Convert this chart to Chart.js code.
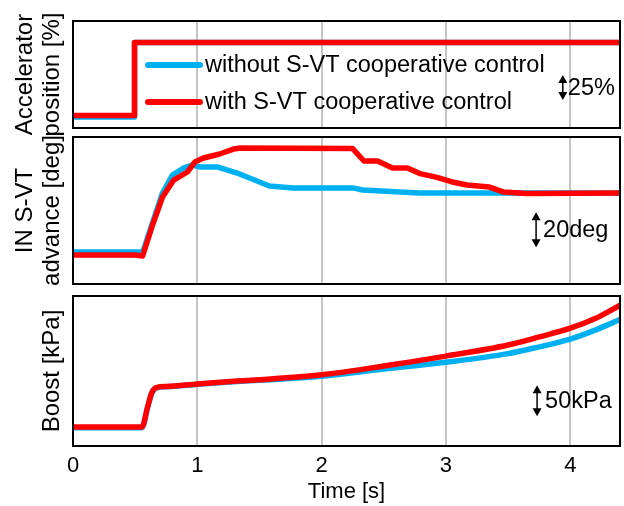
<!DOCTYPE html>
<html>
<head>
<meta charset="utf-8">
<script src="https://cdn.jsdelivr.net/npm/chart.js@4.4.1/dist/chart.umd.min.js"></script>
<style>
  html, body { margin: 0; padding: 0; background: #fff; }
  #wrap { position: relative; width: 624px; height: 506px; }
  .panel { position: absolute; left: 0; width: 624px; }
</style>
</head>
<body>
<div id="wrap">
  <div class="panel" style="top:0;height:150px"><canvas id="accelChart"></canvas></div>
  <div class="panel" style="top:130px;height:170px"><canvas id="svtChart"></canvas></div>
  <div class="panel" style="top:285px;height:221px"><canvas id="boostChart"></canvas></div>
</div>
<script>
// ==============================
// data
// ==============================
const X_TICKS = [0, 1, 2, 3, 4];
const SERIES_NAMES = ["without S-VT cooperative control", "with S-VT cooperative control"];

// Accelerator position [%]
const accelTime = [0, 0.495, 0.495, 4.4];
const accelWithout = [11, 11, 85.5, 85.5];
const accelWith = [12.5, 12.5, 85.5, 85.5];

// IN S-VT advance [deg]
const svtTimeWithout = [0, 0.55, 0.56, 0.63, 0.72, 0.8, 0.89, 0.96, 1.02, 1.16, 1.32, 1.5, 1.58, 1.77, 2.25, 2.33, 2.63, 2.79, 4.4];
const svtWithout = [18.3, 18.3, 18, 33, 52, 62.3, 66.3, 68, 66.9, 66.9, 63.4, 58.3, 56, 54.9, 54.9, 53.7, 52.6, 52, 52];
const svtTimeWith = [0, 0.5, 0.56, 0.64, 0.72, 0.81, 0.92, 0.98, 1.05, 1.18, 1.29, 1.35, 2.25, 2.34, 2.45, 2.57, 2.69, 2.79, 2.92, 3.05, 3.17, 3.35, 3.46, 3.65, 4.4];
const svtWith = [16.6, 16.6, 16, 33.7, 49.7, 59.4, 64, 69.7, 72, 74.3, 77.1, 77.7, 77.4, 70.3, 70.3, 66.3, 66.3, 63.1, 61.1, 58.3, 56.6, 55.4, 52.6, 51.7, 52];

// Boost [kPa]
const boostTime = [0, 0.555, 0.6, 0.636, 0.676, 0.756, 1.0, 1.32, 1.5, 2.0, 2.5, 3.0, 3.5, 3.75, 4.0, 4.2, 4.4];
const boostWithout = [29.5, 29.5, 62, 86, 94, 95.5, 99.5, 104, 106, 112.5, 124, 135, 149, 160, 172.5, 187, 204];
const boostWith = [30.6, 30.6, 62.9, 87.1, 94.5, 96, 100, 104.8, 107, 115, 129, 145, 163, 176, 190, 205.6, 227];

// ==============================
// style
// ==============================
const FONT = "'Liberation Sans', Arial, sans-serif";
const BLUE = "#00b0f0";
const RED = "#ff0000";

function pts(xs, ys) {
  return xs.map((x, i) => ({ x: x, y: ys[i] }));
}

function lineSet(label, xs, ys, color, order, smooth) {
  return {
    label: label,
    data: pts(xs, ys),
    borderColor: color,
    borderWidth: 5.5,
    pointRadius: 0,
    borderJoinStyle: "round",
    borderCapStyle: "round",
    cubicInterpolationMode: smooth ? "monotone" : "default",
    tension: 0,
    order: order
  };
}

// frame, scale arrow, optional legend
function decoPlugin(deco) {
  return {
    id: "deco",
    afterDatasetsDraw(chart) {
      const { ctx, chartArea: a, scales } = chart;
      ctx.save();
      ctx.strokeStyle = "#000";
      ctx.lineWidth = 2;
      ctx.strokeRect(a.left, a.top, a.right - a.left, a.bottom - a.top);

      // scale arrow
      const ax = scales.x.getPixelForValue(deco.arrowAt);
      const y1 = scales.y.getPixelForValue(deco.from);
      const y2 = scales.y.getPixelForValue(deco.from + deco.span);
      ctx.lineWidth = 1.5;
      ctx.beginPath();
      ctx.moveTo(ax, y1 - 3);
      ctx.lineTo(ax, y2 + 3);
      ctx.stroke();
      ctx.fillStyle = "#000";
      ctx.beginPath();
      ctx.moveTo(ax, y2); ctx.lineTo(ax - 4.5, y2 + 8); ctx.lineTo(ax + 4.5, y2 + 8); ctx.closePath();
      ctx.fill();
      ctx.beginPath();
      ctx.moveTo(ax, y1); ctx.lineTo(ax - 4.5, y1 - 8); ctx.lineTo(ax + 4.5, y1 - 8); ctx.closePath();
      ctx.fill();
      ctx.font = "23.5px " + FONT;
      ctx.textAlign = "left";
      ctx.textBaseline = "middle";
      ctx.fillText(deco.label, ax + deco.textGap, (y1 + y2) / 2 + 1);

      // legend
      if (deco.legend) {
        const rows = [[BLUE, SERIES_NAMES[0], 65], [RED, SERIES_NAMES[1], 102]];
        rows.forEach(([color, text, y]) => {
          ctx.strokeStyle = color;
          ctx.lineWidth = 6;
          ctx.lineCap = "round";
          ctx.beginPath();
          ctx.moveTo(148, y);
          ctx.lineTo(200, y);
          ctx.stroke();
          ctx.fillStyle = "#000";
          ctx.fillText(text, 205, y + 1);
        });
      }
      ctx.restore();
    }
  };
}

function makeChart(id, datasets, cfg) {
  return new Chart(document.getElementById(id), {
    type: "line",
    data: { datasets: datasets },
    options: {
      responsive: true,
      maintainAspectRatio: false,
      animation: false,
      layout: { padding: { left: 0, right: 4, top: cfg.padTop, bottom: cfg.padBottom } },
      plugins: { legend: { display: false }, tooltip: { enabled: false } },
      scales: {
        x: {
          type: "linear",
          min: 0,
          max: 4.4,
          afterBuildTicks: s => { s.ticks = X_TICKS.map(v => ({ value: v })); },
          afterFit: s => { s.height = cfg.xHeight; },
          grid: {
            color: c => (c.tick && c.tick.value === 0 ? "rgba(0,0,0,0)" : "#c4c4c4"),
            lineWidth: 2,
            drawTicks: false
          },
          border: { display: false },
          ticks: {
            display: cfg.showTicks,
            padding: 7,
            color: "#000",
            font: { family: FONT, size: 22 },
            maxRotation: 0
          },
          title: {
            display: cfg.showTicks,
            text: "Time [s]",
            color: "#000",
            font: { family: FONT, size: 22 },
            padding: { top: 0, bottom: 1 }
          }
        },
        y: {
          min: 0,
          max: cfg.yMax,
          afterFit: s => { s.width = 73; },
          grid: { display: false },
          border: { display: false },
          ticks: { display: false },
          title: {
            display: true,
            text: cfg.yTitle,
            color: "#000",
            font: { family: FONT, size: 24, lineHeight: 1.125 },
            padding: { top: cfg.titlePad, bottom: 0 }
          }
        }
      }
    },
    plugins: [decoPlugin(cfg.deco)]
  });
}

makeChart("accelChart", [
  lineSet(SERIES_NAMES[0], accelTime, accelWithout, BLUE, 1, false),
  lineSet(SERIES_NAMES[1], accelTime, accelWith, RED, 0, false)
], {
  padTop: 21, padBottom: 22, xHeight: 0, showTicks: false, yMax: 107,
  yTitle: ["Accelerator", "position [%]"], titlePad: 12,
  deco: { arrowAt: 3.94, from: 28, span: 25, label: "25%", textGap: 5, legend: true }
});

makeChart("svtChart", [
  lineSet(SERIES_NAMES[0], svtTimeWithout, svtWithout, BLUE, 1, false),
  lineSet(SERIES_NAMES[1], svtTimeWith, svtWith, RED, 0, false)
], {
  padTop: 7, padBottom: 16, xHeight: 0, showTicks: false, yMax: 84,
  yTitle: ["IN S-VT", "advance [deg]"], titlePad: 12,
  deco: { arrowAt: 3.725, from: 21, span: 20, label: "20deg", textGap: 7, legend: false }
});

makeChart("boostChart", [
  lineSet(SERIES_NAMES[0], boostTime, boostWithout, BLUE, 1, true),
  lineSet(SERIES_NAMES[1], boostTime, boostWith, RED, 0, true)
], {
  padTop: 11, padBottom: 0, xHeight: 60, showTicks: true, yMax: 242,
  yTitle: ["Boost [kPa]"], titlePad: 39,
  deco: { arrowAt: 3.733, from: 48, span: 50, label: "50kPa", textGap: 8, legend: false }
});
</script>
</body>
</html>
